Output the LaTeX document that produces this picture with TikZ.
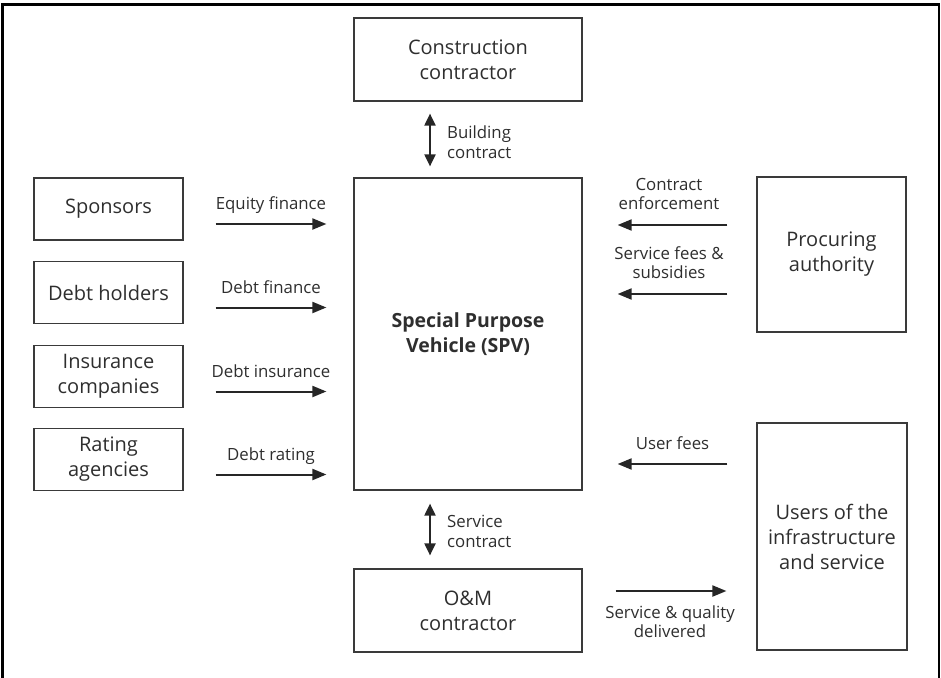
\documentclass[tikz,border=0pt]{standalone}
\usepackage{fontspec}
\setmainfont{Open Sans}
\usetikzlibrary{arrows.meta,calc}
\definecolor{ink}{HTML}{2E2E2E}
\definecolor{edge}{HTML}{3A3A3A}
\tikzset{
  box/.style={draw=edge, line width=1.2pt, text=ink, align=center, inner sep=0pt,
    font=\fontsize{20}{25}\selectfont},
  lbl/.style={text=ink, inner sep=0pt, font=\fontsize{16.8}{19.5}\selectfont},
  arr/.style={draw=black!85, line width=2pt, -{Triangle[length=14pt,width=11pt]}},
  darr/.style={draw=black!85, line width=2pt, {Triangle[length=12pt,width=11pt]}-{Triangle[length=12pt,width=11pt]}},
}
\begin{document}
\begin{tikzpicture}[x=1pt,y=-1pt]
\useasboundingbox (0,0) rectangle (941,677);
\begin{scope}
\clip (0,0) rectangle (941,677);
\draw[line width=2.4pt, black] (2.5,4.5) rectangle (938.8,700);
\end{scope}
% boxes
\node[box, minimum width=228pt, minimum height=83pt] (cc) at (468,59.5) {Construction\\contractor};
\node[box, minimum width=228pt, minimum height=312pt, font=\fontsize{19.5}{25}\selectfont\bfseries] (spv) at (468,334) {Special Purpose\\Vehicle (SPV)};
\node[box, minimum width=228pt, minimum height=83pt] (om) at (468,610.5) {O\&M\\contractor};
\node[box, minimum width=149pt, minimum height=62pt] (sp) at (108.5,209) {Sponsors};
\node[box, minimum width=149pt, minimum height=62pt] (dh) at (108.5,292.5) {Debt holders};
\node[box, minimum width=149pt, minimum height=62pt] (ins) at (108.5,376.5) {Insurance\\companies};
\node[box, minimum width=149pt, minimum height=62pt] (rat) at (108.5,459.5) {Rating\\agencies};
\node[box, minimum width=149pt, minimum height=155pt] (pa) at (831.5,254.5) {Procuring\\authority};
\node[box, minimum width=150pt, minimum height=227pt] (us) at (832,536.5) {Users of the\\infrastructure\\and service};
% left arrows
\foreach \b/\t in {sp/Equity finance, dh/Debt finance, ins/Debt insurance, rat/Debt rating}{
  \draw[arr] ([shift={(32,15)}]\b.east) -- ([shift={(-27,15)}]\b.east -| spv.west)
    node[lbl, pos=0.5, anchor=base, yshift=14.5pt] (l-\b) {\t};
}
% vertical double arrows
\coordinate (bcA) at ([xshift=-38pt,yshift=-12pt]cc.south);
\coordinate (bcB) at ([xshift=-38pt,yshift=11pt]spv.north);
\draw[darr] (bcA) -- (bcB);
\node[lbl, align=left, anchor=west] (lbc) at ([xshift=17pt,yshift=-2pt]$(bcA)!0.5!(bcB)$) {Building\\contract};
\coordinate (scA) at ([xshift=-38pt,yshift=-13pt]spv.south);
\coordinate (scB) at ([xshift=-38pt,yshift=13pt]om.north);
\draw[darr] (scA) -- (scB);
\node[lbl, align=left, anchor=west] (lsc) at ([xshift=17pt,yshift=-2pt]$(scA)!0.5!(scB)$) {Service\\contract};
% right arrows
\draw[arr] ([shift={(-29,-29.5)}]pa.west) -- ([shift={(35,-29.5)}]pa.west -| spv.east);
\node[lbl, align=center, anchor=south] (lce) at (669,210) {Contract\\enforcement};
\draw[arr] ([shift={(-29,39.5)}]pa.west) -- ([shift={(35,39.5)}]pa.west -| spv.east);
\node[lbl, align=center, anchor=south] (lsf) at (669,279) {Service fees \&\\subsidies};
\draw[arr] ([shift={(-29,-72.5)}]us.west) -- ([shift={(35,-72.5)}]us.west -| spv.east)
  node[lbl, pos=0.5, anchor=base, yshift=15pt] (luf) {User fees};
\draw[arr] ([shift={(33,-19.5)}]om.east) -- ([shift={(-30,-19.5)}]om.east -| us.west);
\node[lbl, align=center, anchor=north] (lsq) at (670,605.5) {Service \& quality\\delivered};
\end{tikzpicture}
\end{document}
